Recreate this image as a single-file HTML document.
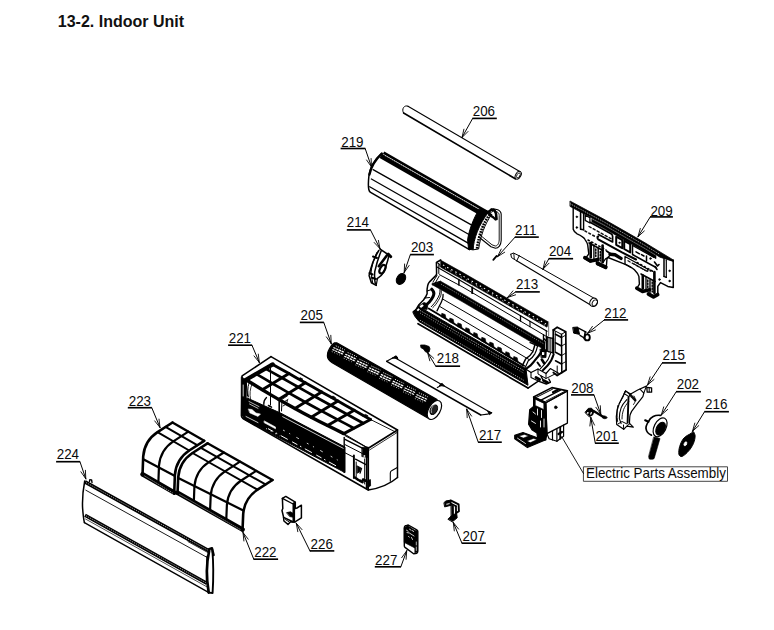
<!DOCTYPE html>
<html><head><meta charset="utf-8"><title>13-2. Indoor Unit</title>
<style>
html,body{margin:0;padding:0;background:#fff;}
body{width:774px;height:630px;overflow:hidden;position:relative;font-family:"Liberation Sans",sans-serif;}
h1{position:absolute;left:57.8px;top:13.2px;margin:0;font-size:16px;line-height:18px;font-weight:bold;color:#111;white-space:nowrap;}
svg{position:absolute;left:0;top:0;}
.lb{font-family:"Liberation Sans",sans-serif;font-size:13.4px;fill:#0a0a0a;}
.ep{font-family:"Liberation Sans",sans-serif;font-size:13.4px;fill:#0a0a0a;}
</style></head><body>
<h1>13-2. Indoor Unit</h1>
<svg width="774" height="630" viewBox="0 0 774 630" stroke-linecap="round" stroke-linejoin="round">
<text transform="translate(472.7 115.9) scale(1 1.07)" class="lb">206</text>
<line x1="472.4" y1="118.4" x2="496.8" y2="118.4" stroke="#000" stroke-width="1.65" stroke-linecap="butt"/>
<line x1="472.6" y1="118.5" x2="462.0" y2="137.5" stroke="#000" stroke-width="1.0"/>
<line x1="462.0" y1="137.5" x2="463.9" y2="129.2" stroke="#000" stroke-width="0.9"/>
<line x1="462.0" y1="137.5" x2="468.0" y2="131.5" stroke="#000" stroke-width="0.9"/>
<text transform="translate(341.2 146.6) scale(1 1.07)" class="lb">219</text>
<line x1="340.6" y1="148.5" x2="365.3" y2="148.5" stroke="#000" stroke-width="1.65" stroke-linecap="butt"/>
<line x1="365.2" y1="148.6" x2="371.5" y2="167.0" stroke="#000" stroke-width="1.0"/>
<line x1="371.5" y1="167.0" x2="366.6" y2="160.0" stroke="#000" stroke-width="0.9"/>
<line x1="371.5" y1="167.0" x2="371.1" y2="158.5" stroke="#000" stroke-width="0.9"/>
<text transform="translate(346.7 227.3) scale(1 1.07)" class="lb">214</text>
<line x1="346.8" y1="229.9" x2="370.6" y2="229.9" stroke="#000" stroke-width="1.65" stroke-linecap="butt"/>
<line x1="370.5" y1="230.0" x2="380.0" y2="248.7" stroke="#000" stroke-width="1.0"/>
<line x1="380.0" y1="248.7" x2="374.2" y2="242.5" stroke="#000" stroke-width="0.9"/>
<line x1="380.0" y1="248.7" x2="378.4" y2="240.4" stroke="#000" stroke-width="0.9"/>
<text transform="translate(410.9 251.9) scale(1 1.07)" class="lb">203</text>
<line x1="410.1" y1="254.6" x2="433.9" y2="254.6" stroke="#000" stroke-width="1.65" stroke-linecap="butt"/>
<line x1="410.3" y1="254.7" x2="404.2" y2="272.5" stroke="#000" stroke-width="1.0"/>
<line x1="404.2" y1="272.5" x2="404.6" y2="264.0" stroke="#000" stroke-width="0.9"/>
<line x1="404.2" y1="272.5" x2="409.1" y2="265.5" stroke="#000" stroke-width="0.9"/>
<text transform="translate(515.0 234.8) scale(1 1.07)" class="lb">211</text>
<line x1="514.8" y1="237.1" x2="538.8" y2="237.1" stroke="#000" stroke-width="1.65" stroke-linecap="butt"/>
<line x1="515.0" y1="237.2" x2="497.5" y2="256.7" stroke="#000" stroke-width="1.0"/>
<line x1="497.5" y1="256.7" x2="501.2" y2="249.1" stroke="#000" stroke-width="0.9"/>
<line x1="497.5" y1="256.7" x2="504.7" y2="252.2" stroke="#000" stroke-width="0.9"/>
<text transform="translate(548.9 256.1) scale(1 1.07)" class="lb">204</text>
<line x1="548.6" y1="258.7" x2="573.1" y2="258.7" stroke="#000" stroke-width="1.65" stroke-linecap="butt"/>
<line x1="548.8" y1="258.8" x2="543.0" y2="269.2" stroke="#000" stroke-width="1.0"/>
<line x1="543.0" y1="269.2" x2="544.9" y2="260.9" stroke="#000" stroke-width="0.9"/>
<line x1="543.0" y1="269.2" x2="549.0" y2="263.2" stroke="#000" stroke-width="0.9"/>
<text transform="translate(515.9 288.9) scale(1 1.07)" class="lb">213</text>
<line x1="515.3" y1="291.9" x2="539.8" y2="291.9" stroke="#000" stroke-width="1.65" stroke-linecap="butt"/>
<line x1="515.5" y1="292.0" x2="507.5" y2="297.5" stroke="#000" stroke-width="1.0"/>
<line x1="507.5" y1="297.5" x2="512.9" y2="290.9" stroke="#000" stroke-width="0.9"/>
<line x1="507.5" y1="297.5" x2="515.6" y2="294.8" stroke="#000" stroke-width="0.9"/>
<text transform="translate(650.4 216.0) scale(1 1.07)" class="lb">209</text>
<line x1="650.0" y1="216.9" x2="672.9" y2="216.9" stroke="#000" stroke-width="1.65" stroke-linecap="butt"/>
<line x1="650.2" y1="217.0" x2="638.0" y2="236.7" stroke="#000" stroke-width="1.0"/>
<line x1="638.0" y1="236.7" x2="640.3" y2="228.5" stroke="#000" stroke-width="0.9"/>
<line x1="638.0" y1="236.7" x2="644.3" y2="231.0" stroke="#000" stroke-width="0.9"/>
<text transform="translate(604.2 318.1) scale(1 1.07)" class="lb">212</text>
<line x1="604.0" y1="319.9" x2="628.1" y2="319.9" stroke="#000" stroke-width="1.65" stroke-linecap="butt"/>
<line x1="604.2" y1="320.0" x2="587.5" y2="333.3" stroke="#000" stroke-width="1.0"/>
<line x1="587.5" y1="333.3" x2="592.4" y2="326.4" stroke="#000" stroke-width="0.9"/>
<line x1="587.5" y1="333.3" x2="595.4" y2="330.0" stroke="#000" stroke-width="0.9"/>
<text transform="translate(662.5 360.3) scale(1 1.07)" class="lb">215</text>
<line x1="662.0" y1="362.9" x2="685.9" y2="362.9" stroke="#000" stroke-width="1.65" stroke-linecap="butt"/>
<line x1="662.2" y1="363.0" x2="647.5" y2="385.0" stroke="#000" stroke-width="1.0"/>
<line x1="647.5" y1="385.0" x2="650.1" y2="376.9" stroke="#000" stroke-width="0.9"/>
<line x1="647.5" y1="385.0" x2="654.0" y2="379.5" stroke="#000" stroke-width="0.9"/>
<text transform="translate(571.2 393.1) scale(1 1.07)" class="lb">208</text>
<line x1="571.0" y1="394.9" x2="594.1" y2="394.9" stroke="#000" stroke-width="1.65" stroke-linecap="butt"/>
<line x1="594.0" y1="395.0" x2="600.8" y2="414.2" stroke="#000" stroke-width="1.0"/>
<line x1="600.8" y1="414.2" x2="595.9" y2="407.3" stroke="#000" stroke-width="0.9"/>
<line x1="600.8" y1="414.2" x2="600.3" y2="405.7" stroke="#000" stroke-width="0.9"/>
<text transform="translate(676.7 389.4) scale(1 1.07)" class="lb">202</text>
<line x1="676.0" y1="391.7" x2="700.9" y2="391.7" stroke="#000" stroke-width="1.65" stroke-linecap="butt"/>
<line x1="676.2" y1="391.8" x2="661.3" y2="415.0" stroke="#000" stroke-width="1.0"/>
<line x1="661.3" y1="415.0" x2="663.7" y2="406.9" stroke="#000" stroke-width="0.9"/>
<line x1="661.3" y1="415.0" x2="667.7" y2="409.4" stroke="#000" stroke-width="0.9"/>
<text transform="translate(705.0 409.4) scale(1 1.07)" class="lb">216</text>
<line x1="704.3" y1="411.7" x2="728.9" y2="411.7" stroke="#000" stroke-width="1.65" stroke-linecap="butt"/>
<line x1="704.5" y1="411.8" x2="692.5" y2="431.3" stroke="#000" stroke-width="1.0"/>
<line x1="692.5" y1="431.3" x2="694.8" y2="423.1" stroke="#000" stroke-width="0.9"/>
<line x1="692.5" y1="431.3" x2="698.8" y2="425.6" stroke="#000" stroke-width="0.9"/>
<text transform="translate(595.5 441.2) scale(1 1.07)" class="lb">201</text>
<line x1="595.1" y1="443.2" x2="618.8" y2="443.2" stroke="#000" stroke-width="1.65" stroke-linecap="butt"/>
<line x1="595.3" y1="443.3" x2="590.8" y2="417.5" stroke="#000" stroke-width="1.0"/>
<line x1="590.8" y1="417.5" x2="594.5" y2="425.1" stroke="#000" stroke-width="0.9"/>
<line x1="590.8" y1="417.5" x2="589.9" y2="426.0" stroke="#000" stroke-width="0.9"/>
<text transform="translate(300.5 320.1) scale(1 1.07)" class="lb">205</text>
<line x1="299.8" y1="322.4" x2="323.9" y2="322.4" stroke="#000" stroke-width="1.65" stroke-linecap="butt"/>
<line x1="323.8" y1="322.5" x2="331.3" y2="343.8" stroke="#000" stroke-width="1.0"/>
<line x1="331.3" y1="343.8" x2="326.4" y2="336.9" stroke="#000" stroke-width="0.9"/>
<line x1="331.3" y1="343.8" x2="330.8" y2="335.3" stroke="#000" stroke-width="0.9"/>
<text transform="translate(436.7 363.1) scale(1 1.07)" class="lb">218</text>
<line x1="435.6" y1="366.2" x2="460.1" y2="366.2" stroke="#000" stroke-width="1.65" stroke-linecap="butt"/>
<line x1="435.8" y1="366.3" x2="427.6" y2="352.6" stroke="#000" stroke-width="1.0"/>
<line x1="427.6" y1="352.6" x2="433.8" y2="358.4" stroke="#000" stroke-width="0.9"/>
<line x1="427.6" y1="352.6" x2="429.8" y2="360.8" stroke="#000" stroke-width="0.9"/>
<text transform="translate(478.9 440.3) scale(1 1.07)" class="lb">217</text>
<line x1="478.1" y1="442.2" x2="501.8" y2="442.2" stroke="#000" stroke-width="1.65" stroke-linecap="butt"/>
<line x1="478.3" y1="442.3" x2="466.7" y2="409.2" stroke="#000" stroke-width="1.0"/>
<line x1="466.7" y1="409.2" x2="471.6" y2="416.1" stroke="#000" stroke-width="0.9"/>
<line x1="466.7" y1="409.2" x2="467.2" y2="417.7" stroke="#000" stroke-width="0.9"/>
<text transform="translate(228.7 343.1) scale(1 1.07)" class="lb">221</text>
<line x1="228.1" y1="345.2" x2="252.1" y2="345.2" stroke="#000" stroke-width="1.65" stroke-linecap="butt"/>
<line x1="252.0" y1="345.3" x2="259.3" y2="362.5" stroke="#000" stroke-width="1.0"/>
<line x1="259.3" y1="362.5" x2="254.0" y2="355.9" stroke="#000" stroke-width="0.9"/>
<line x1="259.3" y1="362.5" x2="258.3" y2="354.1" stroke="#000" stroke-width="0.9"/>
<text transform="translate(128.7 405.6) scale(1 1.07)" class="lb">223</text>
<line x1="127.8" y1="407.7" x2="151.9" y2="407.7" stroke="#000" stroke-width="1.65" stroke-linecap="butt"/>
<line x1="151.8" y1="407.8" x2="160.0" y2="427.5" stroke="#000" stroke-width="1.0"/>
<line x1="160.0" y1="427.5" x2="154.7" y2="420.9" stroke="#000" stroke-width="0.9"/>
<line x1="160.0" y1="427.5" x2="159.0" y2="419.1" stroke="#000" stroke-width="0.9"/>
<text transform="translate(56.7 459.4) scale(1 1.07)" class="lb">224</text>
<line x1="56.1" y1="461.7" x2="80.1" y2="461.7" stroke="#000" stroke-width="1.65" stroke-linecap="butt"/>
<line x1="80.0" y1="461.8" x2="85.8" y2="478.8" stroke="#000" stroke-width="1.0"/>
<line x1="85.8" y1="478.8" x2="80.9" y2="471.8" stroke="#000" stroke-width="0.9"/>
<line x1="85.8" y1="478.8" x2="85.4" y2="470.3" stroke="#000" stroke-width="0.9"/>
<text transform="translate(254.2 557.3) scale(1 1.07)" class="lb">222</text>
<line x1="253.6" y1="559.2" x2="278.1" y2="559.2" stroke="#000" stroke-width="1.65" stroke-linecap="butt"/>
<line x1="253.8" y1="559.3" x2="243.0" y2="532.5" stroke="#000" stroke-width="1.0"/>
<line x1="243.0" y1="532.5" x2="248.2" y2="539.2" stroke="#000" stroke-width="0.9"/>
<line x1="243.0" y1="532.5" x2="243.9" y2="541.0" stroke="#000" stroke-width="0.9"/>
<text transform="translate(310.5 548.9) scale(1 1.07)" class="lb">226</text>
<line x1="309.8" y1="550.9" x2="334.3" y2="550.9" stroke="#000" stroke-width="1.65" stroke-linecap="butt"/>
<line x1="310.0" y1="551.0" x2="296.3" y2="523.3" stroke="#000" stroke-width="1.0"/>
<line x1="296.3" y1="523.3" x2="302.0" y2="529.6" stroke="#000" stroke-width="0.9"/>
<line x1="296.3" y1="523.3" x2="297.8" y2="531.7" stroke="#000" stroke-width="0.9"/>
<text transform="translate(375.0 564.8) scale(1 1.07)" class="lb">227</text>
<line x1="374.8" y1="566.8" x2="400.9" y2="566.8" stroke="#000" stroke-width="1.65" stroke-linecap="butt"/>
<line x1="400.8" y1="566.9" x2="406.7" y2="550.8" stroke="#000" stroke-width="1.0"/>
<line x1="406.7" y1="550.8" x2="406.1" y2="559.3" stroke="#000" stroke-width="0.9"/>
<line x1="406.7" y1="550.8" x2="401.7" y2="557.7" stroke="#000" stroke-width="0.9"/>
<text transform="translate(462.5 540.9) scale(1 1.07)" class="lb">207</text>
<line x1="461.8" y1="543.2" x2="485.9" y2="543.2" stroke="#000" stroke-width="1.65" stroke-linecap="butt"/>
<line x1="462.0" y1="543.3" x2="453.3" y2="522.5" stroke="#000" stroke-width="1.0"/>
<line x1="453.3" y1="522.5" x2="458.6" y2="529.1" stroke="#000" stroke-width="0.9"/>
<line x1="453.3" y1="522.5" x2="454.3" y2="530.9" stroke="#000" stroke-width="0.9"/>
<rect x="583.8" y="466.8" width="143.7" height="14.5" fill="#fff" stroke="#444" stroke-width="1"/>
<text transform="translate(586 478.2) scale(1 1.09)" class="ep">Electric Parts Assembly</text>
<line x1="561.7" y1="436.7" x2="583.5" y2="473.5" stroke="#000" stroke-width="0.9"/>
<path d="M408.0,106.2 L520.2,171.8" fill="none" stroke="#000" stroke-width="1.1" />
<path d="M403.6,113.0 L515.7,179.0" fill="none" stroke="#000" stroke-width="1.6" />
<path d="M408,106.2 C404.5,104.5 401,109 403.6,113" fill="none" stroke="#000" stroke-width="1" />
<ellipse cx="518.2" cy="175.3" rx="2.6" ry="4.2" transform="rotate(30.0 518.2 175.3)" fill="#fff" stroke="#000" stroke-width="1"/>
<ellipse cx="518.4" cy="175.4" rx="1.5" ry="2.8" transform="rotate(30.0 518.4 175.4)" fill="none" stroke="#000" stroke-width="0.8"/>
<path d="M519.2,255.8 L595.5,299.0" fill="none" stroke="#000" stroke-width="1" />
<path d="M516.7,260.8 L591.0,305.2" fill="none" stroke="#000" stroke-width="1.2" />
<path d="M510.8,254.2 L513.5,253.0 L519.2,255.8" fill="none" stroke="#000" stroke-width="1" />
<path d="M510.8,254.2 L511.5,257.6 L516.7,260.8" fill="none" stroke="#000" stroke-width="1" />
<path d="M513.8,253.5 L514.3,259.0" fill="none" stroke="#000" stroke-width="0.9" />
<path d="M519.2,255.8 L516.7,260.8" fill="none" stroke="#000" stroke-width="1" />
<ellipse cx="593.6" cy="302.3" rx="3.6" ry="4.4" transform="rotate(30.0 593.6 302.3)" fill="#fff" stroke="#000" stroke-width="1.1"/>
<ellipse cx="594.8" cy="303.0" rx="2.4" ry="3.2" transform="rotate(30.0 594.8 303.0)" fill="none" stroke="#000" stroke-width="0.9"/>
<line x1="493.3" y1="259.8" x2="496.7" y2="255.9" stroke="#000" stroke-width="1.8"/>
<ellipse cx="401.0" cy="278.9" rx="4.2" ry="5.9" transform="rotate(32.0 401.0 278.9)" fill="#000" stroke="#000" stroke-width="1"/>
<path d="M381.5,153.5 C376,158.5 370,167 368.9,176 C368.3,181.5 368.3,187 368.8,189.5 C369.2,191.3 369.8,192 370.6,192.4 L469.5,249.6" fill="none" stroke="#000" stroke-width="1.5" />
<path d="M383.6,152.6 L488.5,212.6" fill="none" stroke="#000" stroke-width="2.8" stroke-linecap="butt"/>
<path d="M380.8,155.9 L480.0,212.6" fill="none" stroke="#000" stroke-width="4.7" stroke-linecap="butt"/>
<path d="M385.0,155.5 L478.0,208.7" stroke="#fff" stroke-width="0.6" stroke-dasharray="1.4 1.2" stroke-linecap="butt" fill="none"/>
<path d="M381.8,153.6 C376.5,158.5 371,166.5 369.4,174.5" fill="none" stroke="#000" stroke-width="2.4" />
<path d="M373.1,169.6 L474.0,226.4" fill="none" stroke="#000" stroke-width="1.3" />
<path d="M371.4,179.0 L470.3,235.3" fill="none" stroke="#000" stroke-width="1.3" />
<path d="M369.7,186.7 L468.6,243.4" fill="none" stroke="#000" stroke-width="1.3" />
<path d="M479,209.5 C473,219 468.5,232 467.6,240 L468.6,249.3 L473.2,249.8 C473.2,240 479,224 488.5,212.2 L486.5,210.8 Z" fill="#000" stroke="#000" stroke-width="1" />
<path d="M489.6,214.4 C483,223.5 478.8,235 477,248.6" stroke="#000" stroke-width="2.6" stroke-dasharray="1.7 1.0" stroke-linecap="butt" fill="none"/>
<path d="M491.2,215 C484.6,224.5 480.6,236 478.6,249 L473.2,249.8" fill="none" stroke="#000" stroke-width="1.0" />
<path d="M487,211.5 L491.5,215" fill="none" stroke="#000" stroke-width="1.8" />
<path d="M487,212 L493.3,208.7 L497.8,209.8 C500,210.8 501.2,212.5 501.2,214.5 L501.2,240.5 C501,245 498.5,248.3 495.5,248.3 L491,246.7 L478.5,236.8" fill="none" stroke="#000" stroke-width="1.1" />
<path d="M489,213.5 L493.6,211 L496.8,211.7 C498.5,212.5 499.2,213.8 499.2,215.5 L499.2,240 C499,243.5 497.5,246 495.3,246 L492,244.8 L480,235" fill="none" stroke="#000" stroke-width="0.9" />
<path d="M488,212.6 L491.5,209.4 L494.5,210.2 L496,213.5 L496.5,219" fill="none" stroke="#000" stroke-width="2.6" />
<path d="M489.5,215 L493.5,217.5 L495.5,219.5" fill="none" stroke="#000" stroke-width="2.2" />
<path d="M380.1,249.2 L390.6,256.2" fill="none" stroke="#000" stroke-width="1.6" />
<path d="M388.2,254 L390.8,256.8" fill="none" stroke="#000" stroke-width="2.8" />
<path d="M378.8,250.5 C376,255 372,264 370.5,269.7 C369.5,273 369,275 369.2,275.8 L371.4,282.8 L376.2,285.4" fill="none" stroke="#000" stroke-width="1.6" />
<path d="M381.4,250.5 C379,256 376,266 374.8,271.4 C374.3,276 374.6,280 375.3,283.7" fill="none" stroke="#000" stroke-width="1.5" />
<path d="M376.8,252.5 C374,258 371.5,267 371,273 L372.8,283.5" fill="none" stroke="#000" stroke-width="1.0" />
<path d="M388.8,256.2 C388,260 387,263 386.2,265.3 C385.5,268 384.5,270.5 383.6,272.3 C382,275 379.5,277.3 377.5,278.4" fill="none" stroke="#000" stroke-width="1.5" />
<path d="M387,255.3 L378.8,266.2" fill="none" stroke="#000" stroke-width="2.6" />
<ellipse cx="382.5" cy="269.2" rx="2.4" ry="4.6" transform="rotate(28.0 382.5 269.2)" fill="none" stroke="#000" stroke-width="2.2"/>
<path d="M377,258 L373,256.5 M372.5,274.5 L369.5,273 M376,279 L372,277.8" fill="none" stroke="#000" stroke-width="2.0" />
<path d="M376.2,285.4 L377.5,278.4" fill="none" stroke="#000" stroke-width="1.2" />
<path d="M440.5,260.1 L462.0,272.1 L548.6,322.1 L547.0,327.2 L462.0,279.1 L441.0,267.4 Z" fill="#000" stroke="#000" stroke-width="0.6" />
<path d="M443.0,264.9 L462.0,275.5 L546.0,324.0" stroke="#fff" stroke-width="1.1" stroke-dasharray="1.5 3.2" stroke-linecap="butt" fill="none"/>
<path d="M445.0,267.8 L462.0,277.3 L546.0,325.8" stroke="#fff" stroke-width="0.7" stroke-dasharray="1.2 4.8" stroke-linecap="butt" fill="none"/>
<path d="M440.7,260 L436.4,262.5 L436.6,274.1 C436,275.5 435.5,276 435,276.4 L429.8,281.6 C428.5,283 428,284 427.7,285.5 L427.1,289.2 L427.1,293.8 C426.5,296 425,298 423.5,300 L418.9,304.7 L415.8,309.8 L413.2,311.9" fill="none" stroke="#000" stroke-width="1.5" />
<path d="M438.8,264 L438.8,273.5 M439.1,276.2 L435,283.4 M437,275.5 L433,282" fill="none" stroke="#000" stroke-width="1.0" />
<path d="M436.4,262.5 L439.5,264 L440.2,266.8" fill="none" stroke="#000" stroke-width="1.0" />
<path d="M437.0,267.0 L462.0,281.4 L547.0,331.3" fill="none" stroke="#000" stroke-width="1.2" />
<path d="M439.5,274.7 L462.0,286.6 L546.0,336.2" fill="none" stroke="#000" stroke-width="1.0" />
<path d="M458.9,279.6 L458.9,285.0" fill="none" stroke="#000" stroke-width="1.5" />
<path d="M472.2,287.4 L472.2,293.2" fill="none" stroke="#000" stroke-width="1.8" />
<path d="M520.5,315.7 L520.5,321.1" fill="none" stroke="#000" stroke-width="1.3" />
<path d="M530.0,321.3 L530.0,326.8" fill="none" stroke="#000" stroke-width="1.1" />
<path d="M548.6,322.0 L548.6,336.0" fill="none" stroke="#888" stroke-width="1.2" />
<path d="M546.3,330.9 L546.3,343.0" fill="none" stroke="#000" stroke-width="1.1" />
<path d="M543.5,334.7 L543.5,348.0" fill="none" stroke="#000" stroke-width="1.4" />
<path d="M440.7,281.3 L462.0,293.4 L545.0,341.9 L545.0,350.1 L462.0,301.6 L432.6,284.9 Z" fill="#000" stroke="#000" stroke-width="0.6" />
<path d="M432.4,283.4 L440.7,281.3 L432.6,284.9 Z" fill="#000" stroke="#000" stroke-width="0.8" />
<path d="M441.0,284.1 L462.0,296.0 L544.0,344.0" stroke="#fff" stroke-width="0.6" stroke-dasharray="0.9 1.3" stroke-linecap="butt" fill="none"/>
<path d="M431.8,289.2 C433.5,291 434.3,292.5 433.8,294.3 C433.5,296.5 432.5,298 431.3,299.5 C430,301.5 429,302.6 427.6,303.6" fill="none" stroke="#000" stroke-width="3.0" />
<path d="M440,289.7 C440.5,293 439,296.5 436.9,299.5 C435.5,302 433.5,304.5 431.3,306.7" fill="none" stroke="#000" stroke-width="1.0" />
<path d="M441.3,290.5 C441.8,294 440.3,297.5 438.3,300.5 C437,303 435,305.6 432.8,307.6" fill="none" stroke="#000" stroke-width="0.9" />
<path d="M443.1,294.3 C443.3,298 441.5,302.5 439,306.7 L437,310.9" fill="none" stroke="#000" stroke-width="1.3" />
<path d="M427.1,291 L431.5,289.5 M425,298 L429.5,297.5" fill="none" stroke="#000" stroke-width="1.2" />
<path d="M443.1,299.3 L462.0,310.2 L533.0,351.5" fill="none" stroke="#000" stroke-width="1.0" />
<path d="M440.0,306.6 L462.0,319.7 L529.5,359.8" fill="none" stroke="#000" stroke-width="1.0" />
<path d="M428.7,308.5 L440.0,315.3 L462.0,328.5 L524.0,365.7" fill="none" stroke="#000" stroke-width="1.9" />
<path d="M441.2,316.5 l0.6,-3.2 l3.4,1.2 l0.9,4.2 Z" fill="#000" stroke="#000" stroke-width="0.6" />
<path d="M449.2,321.3 l0.6,-3.2 l3.4,1.2 l0.9,4.2 Z" fill="#000" stroke="#000" stroke-width="0.6" />
<path d="M457.2,326.1 l0.6,-3.2 l3.4,1.2 l0.9,4.2 Z" fill="#000" stroke="#000" stroke-width="0.6" />
<path d="M465.2,330.9 l0.6,-3.2 l3.4,1.2 l0.9,4.2 Z" fill="#000" stroke="#000" stroke-width="0.6" />
<path d="M473.2,335.7 l0.6,-3.2 l3.4,1.2 l0.9,4.2 Z" fill="#000" stroke="#000" stroke-width="0.6" />
<path d="M481.2,340.5 l0.6,-3.2 l3.4,1.2 l0.9,4.2 Z" fill="#000" stroke="#000" stroke-width="0.6" />
<path d="M489.2,345.3 l0.6,-3.2 l3.4,1.2 l0.9,4.2 Z" fill="#000" stroke="#000" stroke-width="0.6" />
<path d="M497.2,350.1 l0.6,-3.2 l3.4,1.2 l0.9,4.2 Z" fill="#000" stroke="#000" stroke-width="0.6" />
<path d="M505.2,354.9 l0.6,-3.2 l3.4,1.2 l0.9,4.2 Z" fill="#000" stroke="#000" stroke-width="0.6" />
<path d="M513.2,359.7 l0.6,-3.2 l3.4,1.2 l0.9,4.2 Z" fill="#000" stroke="#000" stroke-width="0.6" />
<path d="M413.2,312.2 L416.0,309.8 L425.0,310.2 L440.0,318.9 L462.0,331.7 L526.0,368.8 L528.0,385.3 L462.0,346.7 L440.0,333.8 L419.0,321.5 L415.0,316.5 Z" fill="#000" stroke="#000" stroke-width="1" />
<path d="M414,311 L419,306 L424,302.5 L428,304 L427,309.5 Z" fill="#000" stroke="#000" stroke-width="0.8" />
<path d="M419.5,306.3 l2.8,-2 l1.5,1.4 l-2.8,2.2 Z M416.6,310 l2,-1.8 l1.2,1.2 l-1.8,1.8 Z" fill="#fff" stroke="none"/>
<path d="M420.0,310.4 L440.0,322.0 L462.0,334.8 L524.0,370.7" stroke="#fff" stroke-width="0.7" stroke-dasharray="1.0 1.1" stroke-linecap="butt" fill="none"/>
<path d="M420.0,313.0 L440.0,324.6 L462.0,337.4 L524.0,373.3" stroke="#fff" stroke-width="0.6" stroke-dasharray="0.9 1.6" stroke-linecap="butt" fill="none"/>
<path d="M420.0,320.2 L440.0,331.8 L462.0,344.6 L524.0,380.5" stroke="#fff" stroke-width="0.7" stroke-dasharray="1.0 1.2" stroke-linecap="butt" fill="none"/>
<path d="M418.0,323.7 L440.0,336.6 L462.0,349.5 L528.0,388.1" fill="none" stroke="#000" stroke-width="1.7" />
<path d="M534.9,344.6 C534.2,347.5 533.6,350 532.6,352 C531,355 528,357.5 525.7,358.9 L522.3,365.7" fill="none" stroke="#000" stroke-width="1.5" />
<path d="M537.6,345.8 C536.8,349 536,351.6 535,353.6 C533.4,356.6 530.6,359.2 528.3,360.8 L525.2,367.4" fill="none" stroke="#000" stroke-width="1.2" />
<path d="M530,342.6 C533,343.8 535.5,344.6 537.8,346" fill="none" stroke="#000" stroke-width="1.3" />
<path d="M542.9,346.9 C541.8,351 539.8,355 537.1,357.7 C535,360.5 532.5,363.5 530.3,365.7 L525.7,369.1" fill="none" stroke="#000" stroke-width="2.2" />
<path d="M553.7,354.3 C552.5,358.5 550.5,362.5 547.4,365.7 L542.9,370.3" fill="none" stroke="#000" stroke-width="2.0" />
<path d="M550.6,353.4 C549.4,357.5 547.4,361.2 544.6,364.2 L540.4,368.6" fill="none" stroke="#000" stroke-width="1.1" />
<path d="M540.3,349.2 L546.3,349.8 L546.0,357.5 L541.5,357.8 Z" fill="#000" stroke="#000" stroke-width="0.8" />
<path d="M542,352 l2.4,0.3 l-0.2,2.6 l-2.2,0 Z" fill="#fff" stroke="none"/>
<path d="M541.8,359.5 L544.2,363.2" fill="none" stroke="#000" stroke-width="2.6" />
<path d="M537.5,362.5 L540,366" fill="none" stroke="#000" stroke-width="2.0" />
<path d="M546.9,337.1 L553.7,338.6 L553.7,353.1 L546.9,351.0" fill="none" stroke="#000" stroke-width="1.1" />
<path d="M546.9,337.1 L546.9,351.0" fill="none" stroke="#000" stroke-width="2.0" />
<line x1="549.0" y1="338.0" x2="549.0" y2="352.4" stroke="#000" stroke-width="0.9"/>
<line x1="550.8" y1="338.0" x2="550.8" y2="352.4" stroke="#000" stroke-width="0.9"/>
<line x1="552.4" y1="338.0" x2="552.4" y2="352.4" stroke="#000" stroke-width="0.9"/>
<path d="M544,338.9 L546.9,341.5" fill="none" stroke="#000" stroke-width="1.6" />
<path d="M528.0,388.1 L538.3,381.1 L546.3,384.0 L550.3,382.3" fill="none" stroke="#000" stroke-width="1.4" />
<path d="M525.7,369.1 L531.0,372.5 L538.0,369.0 L546.0,373.5 L550.3,368.6 L559.4,373.7 L566.3,369.6" fill="none" stroke="#000" stroke-width="1.2" />
<path d="M531.0,372.5 L531.0,377.5 L538.3,381.1" fill="none" stroke="#000" stroke-width="1.1" />
<path d="M538.0,369.0 L538.0,374.0 L546.0,378.5 L546.0,373.5" fill="none" stroke="#000" stroke-width="1.0" />
<path d="M546.0,378.5 L556.0,373.5" fill="none" stroke="#000" stroke-width="1.0" />
<path d="M536,377.5 l3.6,2 M543.5,380.6 l4,2" fill="none" stroke="#000" stroke-width="2.8" />
<path d="M541,376.2 l2,3.6 M548.8,379 l1.6,3" fill="none" stroke="#000" stroke-width="1.4" />
<path d="M553.3,330.0 L557.2,327.2 L565.8,331.7 L566.1,370.0 L557.2,375.6 L553.3,372.5" fill="none" stroke="#000" stroke-width="1.7" />
<path d="M553.3,330.0 L553.3,353.0" fill="none" stroke="#000" stroke-width="1.8" />
<path d="M553.3,330.0 L561.5,334.3 L565.8,331.7" fill="none" stroke="#000" stroke-width="1" />
<path d="M561.5,334.3 L561.8,372.8" fill="none" stroke="#000" stroke-width="1.5" />
<path d="M555.3,331.5 L555.3,352.0" fill="none" stroke="#000" stroke-width="0.9" />
<path d="M555.5,334.3 L561.5,337.5" fill="none" stroke="#000" stroke-width="1.6" />
<path d="M561.5,337.5 L565.8,335.1" fill="none" stroke="#000" stroke-width="0.9" />
<path d="M555.5,342.8 L561.5,346.0" fill="none" stroke="#000" stroke-width="1.6" />
<path d="M561.5,346.0 L565.8,343.6" fill="none" stroke="#000" stroke-width="0.9" />
<path d="M555.5,352.3 L561.5,355.5" fill="none" stroke="#000" stroke-width="1.6" />
<path d="M561.5,355.5 L565.8,353.1" fill="none" stroke="#000" stroke-width="0.9" />
<path d="M555.5,360.8 L561.5,364.0" fill="none" stroke="#000" stroke-width="1.6" />
<path d="M561.5,364.0 L565.8,361.6" fill="none" stroke="#000" stroke-width="0.9" />
<path d="M557.2,375.6 L557.2,366.0" fill="none" stroke="#000" stroke-width="1" />
<path d="M573.2,204.4 L573.2,229.3 C574,232 575.5,233 577.1,233.8 C581,235.5 584,237.5 584.9,239.3 C586.5,241.5 587.5,243.5 587.7,244.9 L588.8,253.8 L585.5,258.5" fill="none" stroke="#000" stroke-width="1.4" />
<path d="M673.2,259.9 L673.3,287.6 L667.8,286.4 L660.5,282.6 L657.8,286.4 L657.8,294.5" fill="none" stroke="#000" stroke-width="1.5" />
<path d="M570.3,201.2 L590.0,211.8 L604.0,219.3 L625.0,231.3 L645.0,242.8 L660.0,251.9 L673.2,259.9 L673.2,261.4 L660.0,257.2 L645.0,248.1 L625.0,236.6 L604.0,224.6 L590.0,217.1 L570.3,206.5 Z" fill="#000" stroke="#000" stroke-width="0.8" />
<path d="M570.3,203.8 L590.0,214.4 L604.0,221.9 L625.0,233.9 L645.0,245.4 L660.0,254.5" stroke="#fff" stroke-width="0.7" stroke-dasharray="1.1 1.0" stroke-linecap="butt" fill="none"/>
<path d="M592.0,219.2 L604.0,225.6 L625.0,237.6 L645.0,249.1 L656.0,255.8 L656.0,258.7 L645.0,252.0 L625.0,240.5 L604.0,228.5 L592.0,222.1 Z" fill="#000" stroke="#000" stroke-width="0.6" />
<path d="M580.6,210.6 L580.6,229.3" fill="none" stroke="#000" stroke-width="1.6" />
<path d="M583.6,212.2 L583.6,229.8" fill="none" stroke="#000" stroke-width="1.4" />
<path d="M580.6,229.3 L583.6,229.8" fill="none" stroke="#000" stroke-width="1.4" />
<path d="M585.2,215.2 L589.9,217.8 L589.9,223.0 L585.2,220.4 Z" fill="none" stroke="#000" stroke-width="1.3" />
<ellipse cx="576.8" cy="216.8" rx="0.9" ry="0.9" transform="rotate(0.0 576.8 216.8)" fill="#000" stroke="#000" stroke-width="0.5"/>
<ellipse cx="576.8" cy="227.5" rx="0.9" ry="0.9" transform="rotate(0.0 576.8 227.5)" fill="#000" stroke="#000" stroke-width="0.5"/>
<path d="M590.5,222.5 L611,233.8 C612.3,234.6 612.6,235.2 612.6,236.2 L612.6,242 L598.5,234.5" fill="none" stroke="#000" stroke-width="1.7" />
<path d="M598.2,236.5 C597.2,236 597.2,238.6 598.2,239.3 L622,252.4 L636,259.5" fill="none" stroke="#000" stroke-width="2.0" />
<path d="M589,226.5 L611,238.6" stroke="#111" stroke-width="1.4" stroke-dasharray="2.4 2.2" fill="none"/>
<path d="M585,231 L596,237" stroke="#111" stroke-width="1.6" stroke-dasharray="1.8 2.6" fill="none"/>
<path d="M616.2,236.7 L622.3,240.2 L622.3,248.2 L616.2,244.8 Z" fill="none" stroke="#000" stroke-width="2.0" />
<path d="M624.2,240.8 L630.2,244.2 L630.2,252.4 L624.2,249.0 Z" fill="none" stroke="#000" stroke-width="2.0" />
<ellipse cx="619.5" cy="242.8" rx="0.8" ry="0.8" transform="rotate(0.0 619.5 242.8)" fill="#000" stroke="#000" stroke-width="0.5"/>
<path d="M632.5,245.5 L632.5,254.5 L656.0,267.5" fill="none" stroke="#000" stroke-width="1.5" />
<path d="M632.5,245.5 L654.0,257.4" fill="none" stroke="#000" stroke-width="1.3" />
<path d="M636,251.8 l3.5,2 M641.5,254.6 l2.4,1.4 M646.5,256 l0,5" fill="none" stroke="#000" stroke-width="1.5" />
<path d="M625,256.5 L625,264 L631,267.5 M625,256.5 L647,268.7 C648.3,269.6 648.3,271.6 647,271.2 L634,264" fill="none" stroke="#000" stroke-width="1.3" />
<path d="M628,260.8 L646,270.8" stroke="#111" stroke-width="1.3" stroke-dasharray="2.4 2.4" fill="none"/>
<path d="M664.0,258.8 L664.0,276.4" fill="none" stroke="#000" stroke-width="1.5" />
<path d="M666.3,260.2 L666.3,277.4" fill="none" stroke="#000" stroke-width="1.2" />
<path d="M664.0,276.4 L666.3,277.4" fill="none" stroke="#000" stroke-width="1.3" />
<ellipse cx="669.6" cy="270.8" rx="0.9" ry="0.9" transform="rotate(0.0 669.6 270.8)" fill="#000" stroke="#000" stroke-width="0.5"/>
<ellipse cx="669.6" cy="281.0" rx="0.9" ry="0.9" transform="rotate(0.0 669.6 281.0)" fill="#000" stroke="#000" stroke-width="0.5"/>
<ellipse cx="650.5" cy="258.5" rx="0.9" ry="0.9" transform="rotate(0.0 650.5 258.5)" fill="#000" stroke="#000" stroke-width="0.5"/>
<ellipse cx="650.5" cy="270.6" rx="0.9" ry="0.9" transform="rotate(0.0 650.5 270.6)" fill="#000" stroke="#000" stroke-width="0.5"/>
<ellipse cx="659.5" cy="279.5" rx="0.9" ry="0.9" transform="rotate(0.0 659.5 279.5)" fill="#000" stroke="#000" stroke-width="0.5"/>
<path d="M654.5,262 l3,4 l1.5,-1.5 M655,266.5 l2,3" fill="none" stroke="#000" stroke-width="1.6" />
<path d="M608,257.5 L622.2,263.1 C628,265.5 632.5,268 634.4,269.8 C637,272.5 638.5,275 638.9,276.4 L639.4,284.2 L636.7,288.7" fill="none" stroke="#000" stroke-width="1.4" />
<path d="M608,257.5 L605.5,258.8 L603,262.5" fill="none" stroke="#000" stroke-width="1.3" />
<path d="M584.5,258.4 L590,262 L596,259.8 L597,264.5 L606.2,268.5 L607,258.4 L610,255.3" fill="none" stroke="#000" stroke-width="1.4" />
<path d="M590.7,243.0 L590.7,257.5" fill="none" stroke="#000" stroke-width="2.6" />
<path d="M593.9,244.8 L593.9,258.8" fill="none" stroke="#000" stroke-width="1.3" />
<path d="M602.6,245.5 L602.6,262.3" fill="none" stroke="#000" stroke-width="2.6" />
<path d="M598.2,248.0 L598.2,261.0" fill="none" stroke="#000" stroke-width="1.4" />
<path d="M584.8,257.6 L590.5,261 L598,259.4" fill="none" stroke="#000" stroke-width="3.6" />
<path d="M597.5,263.2 L605.8,267.2" fill="none" stroke="#000" stroke-width="3.8" />
<path d="M589,243 L603,250.5" fill="none" stroke="#000" stroke-width="1.6" />
<path d="M595.8,249 L595.8,258 M600.3,251.5 L600.3,261" stroke="#000" stroke-width="1.5" stroke-dasharray="1.4 1.6" fill="none"/>
<path d="M610,254.2 L615,254.8 L621,258.4" fill="none" stroke="#000" stroke-width="3.4" />
<path d="M606.5,251 L611,254" fill="none" stroke="#000" stroke-width="1.6" />
<path d="M588,240 L606,250" stroke="#000" stroke-width="1.5" stroke-dasharray="1.5 2.6" fill="none"/>
<path d="M642.8,275.5 L642.8,288.5" fill="none" stroke="#000" stroke-width="2.6" />
<path d="M646.0,277.5 L646.0,290.0" fill="none" stroke="#000" stroke-width="1.3" />
<path d="M654.4,272.0 L654.4,293.0" fill="none" stroke="#000" stroke-width="2.6" />
<path d="M650.0,280.0 L650.0,292.5" fill="none" stroke="#000" stroke-width="1.4" />
<path d="M636.8,288.2 L642.5,291.4 L649.5,289.8" fill="none" stroke="#000" stroke-width="3.6" />
<path d="M648.5,294 L653.5,296.8 L657.6,294.6" fill="none" stroke="#000" stroke-width="3.8" />
<path d="M641,274 L655,281.5" fill="none" stroke="#000" stroke-width="1.6" />
<path d="M647.8,280 L647.8,289 M652.2,282 L652.2,292" stroke="#000" stroke-width="1.5" stroke-dasharray="1.4 1.6" fill="none"/>
<path d="M637,262.5 L654,272" stroke="#000" stroke-width="1.5" stroke-dasharray="1.5 2.6" fill="none"/>
<path d="M573.1,327.4 L577.8,327.0 L579.6,334.4 L574.0,333.2 Z" fill="#000" stroke="#000" stroke-width="1" />
<path d="M578.5,328.2 L586.1,332.2" fill="none" stroke="#000" stroke-width="1.3" />
<path d="M580.0,335.4 L584.6,338.2" fill="none" stroke="#000" stroke-width="1.3" />
<ellipse cx="587.2" cy="337.4" rx="2.6" ry="3.0" transform="rotate(0.0 587.2 337.4)" fill="none" stroke="#000" stroke-width="1.9"/>
<line x1="585.2" y1="332.0" x2="584.2" y2="338.5" stroke="#000" stroke-width="1.6"/>
<path d="M646.4,386.1 L637.7,390 L629.8,394.4 L625.5,390.9 L619.3,403.6 C617.5,408 616.5,413 616.3,416.6 L616.7,424.5 L623.7,429.3 L626.8,426.2 L633.3,427.1 L629.8,423.6" fill="none" stroke="#000" stroke-width="1.2" />
<path d="M646.8,387.4 L651.6,387.8 L651.6,392.2 L647.2,392.2 Z" fill="none" stroke="#000" stroke-width="1.3" />
<line x1="649.2" y1="387.8" x2="649.2" y2="392.0" stroke="#000" stroke-width="1.0"/>
<path d="M643.8,393.1 L642.9,396.6 L636.8,404.4 L631.6,411.4 C630.5,413.5 629.9,415 629.8,416.6 L629.4,423.6" fill="none" stroke="#000" stroke-width="1.2" />
<path d="M646.4,386.1 L643.8,393.1 L640,389.2" fill="none" stroke="#000" stroke-width="1.1" />
<path d="M626.8,399.6 C624,402.5 622,405.5 621.1,407.9 C619.8,411.5 619.3,415 619.3,418.4 L621.1,423.6" fill="none" stroke="#000" stroke-width="1.1" />
<path d="M628.8,401.5 C626.5,404 624.5,407 623.6,409.5 C622.4,413 622,416 622,419" fill="none" stroke="#000" stroke-width="0.9" />
<path d="M628.5,397.3 L627.6,422.8" fill="none" stroke="#000" stroke-width="1.9" />
<path d="M625.5,390.9 L623,397 L619.3,403.6" fill="none" stroke="#000" stroke-width="1" />
<path d="M630.2,394.8 L635.2,400.2" stroke="#111" stroke-width="2.6" stroke-dasharray="0.9 0.9" fill="none"/>
<path d="M618,424 L622,421.5 L627,424" fill="none" stroke="#000" stroke-width="1" />
<path d="M625.5,390.9 L630.7,394.0 L628.9,396.6 L624.1,393.5 Z" fill="none" stroke="#000" stroke-width="1.1" />
<path d="M617.8,405.5 C616.8,410 616.9,416 617.6,421.5" fill="none" stroke="#000" stroke-width="0.9" />
<path d="M629.8,423.6 L626.8,426.2 M623.7,429.3 L623.5,425" fill="none" stroke="#000" stroke-width="1.0" />
<path d="M634,396 C636,399 635.5,402 633.5,404.5" fill="none" stroke="#000" stroke-width="0.9" />
<path d="M654,437 L660,438.5 L654.2,458.4 C653,459.6 650.2,459.6 649,458.8 L648.7,456.4 Z" fill="#000" stroke="#000" stroke-width="0.6" />
<path d="M660.5,415.4 C655,414.5 650.5,417.5 648.7,421.1 C646.5,424.5 645.6,427 646.1,429 C646.5,432 648.5,434 651.4,435.1" fill="none" stroke="#000" stroke-width="1.7" />
<ellipse cx="660.1" cy="427.3" rx="5.9" ry="10.2" transform="rotate(27.0 660.1 427.3)" fill="#fff" stroke="#000" stroke-width="1.2"/>
<ellipse cx="660.6" cy="428.6" rx="4.2" ry="6.9" transform="rotate(27.0 660.6 428.6)" fill="#000" stroke="#000" stroke-width="1"/>
<path d="M645.2,420.3 L648.4,421.7" fill="none" stroke="#000" stroke-width="2.2" />
<path d="M693.7,432 C695,434 695.4,436 695,437.7 C694.6,440.5 693.8,443 692.4,445.6 C691,448.3 689.3,450.5 687.2,452.5 C685.5,454.3 683.7,455.7 681.9,456.5 C680.5,456.8 679.2,455.8 678.9,454.3 C678.6,451.7 678.9,449 679.7,446.4 C680.4,443.9 681.4,441.6 682.8,439.4 C684.5,437.3 686.5,435.7 688.9,434.6 Z" fill="#000" stroke="#000" stroke-width="1" />
<ellipse cx="685.4" cy="443.8" rx="1.3" ry="2.2" transform="rotate(28.0 685.4 443.8)" fill="#fff" stroke="#fff" stroke-width="0.5"/>
<path d="M585.2,412.2 L588.3,408.4 L591.5,408.2 L594,411 L592.6,415 L589.6,416.6 Z" fill="#000" stroke="#000" stroke-width="1.0" />
<path d="M587.2,412 l1.6,0.2 l-0.6,1.8 l-1.4,-0.4 Z M590.6,412.4 l1.6,-0.6 l-0.8,2.4 l-1.4,0.6 Z" fill="#fff" stroke="none"/>
<path d="M593.6,411 L602.6,416.6" fill="none" stroke="#000" stroke-width="2.3" />
<ellipse cx="604.6" cy="417.3" rx="2.4" ry="1.4" transform="rotate(10.0 604.6 417.3)" fill="#000" stroke="#000" stroke-width="0.6"/>
<path d="M545.8,402.6 L567.4,390.9 L567.4,423.1 L546.9,433.7 Z" fill="#fff" stroke="#000" stroke-width="1.3" />
<ellipse cx="555.8" cy="407.3" rx="1.4" ry="1.5" transform="rotate(0.0 555.8 407.3)" fill="#000" stroke="#000" stroke-width="0.5"/>
<path d="M533.6,397.0 L551.9,387.6 L567.4,390.9 L545.8,402.6 Z" fill="#fff" stroke="#000" stroke-width="1.6" />
<path d="M536.5,397.3 L552.5,389.2" fill="none" stroke="#000" stroke-width="1.0" />
<path d="M541.0,400.2 L560.5,390.2" fill="none" stroke="#000" stroke-width="1.3" />
<path d="M546.0,401.0 L564.5,391.5" fill="none" stroke="#000" stroke-width="0.9" />
<path d="M553,392.2 l5,-2.4" fill="none" stroke="#000" stroke-width="2.2" />
<path d="M533.6,397.0 L545.8,402.6 L546.9,433.7 L545.8,439.8 L538.0,439.8 L536.9,433.1 L531.9,429.8 L528.6,424.2 L529.7,409.8 L533.6,406.4 Z" fill="#000" stroke="#000" stroke-width="1.2" />
<path d="M535.3,399.5 L535.3,405.5 L543.8,409.5 L543.8,403.6 Z" fill="#fff" stroke="#000" stroke-width="0.6" />
<path d="M537.5,409 l0,6 M541.5,410.5 l0,7 M544,419 l0,8 M533,412 l2.5,2 M531.5,421 l4,2.4 M540.5,421 l0,6" fill="none" stroke="#fff" stroke-width="0.9" />
<path d="M514.7,435.3 L523.0,432.6 L538.0,438.1 L545.8,439.8 L527.4,447.6 L514.7,438.7 Z" fill="#000" stroke="#000" stroke-width="1.1" />
<path d="M519,436 l5.5,-1.6 l4,1.6 l-5,2 Z M527,441 l6.5,-2.6 l3.5,1.2 l-6.5,3 Z" fill="#fff" stroke="#000" stroke-width="0.5" />
<path d="M517.5,438.2 l8,5.3" fill="none" stroke="#fff" stroke-width="0.8" />
<path d="M546.9,433.7 L549.1,438.7 L556.9,441.3 L563.6,436.3 L563.6,425.2" fill="none" stroke="#000" stroke-width="1.2" />
<path d="M552.5,431.2 L552.5,440.0" fill="none" stroke="#000" stroke-width="1.2" />
<path d="M556.9,429.0 L556.9,441.3" fill="none" stroke="#000" stroke-width="1.2" />
<path d="M560.2,427.3 L560.2,438.8" fill="none" stroke="#000" stroke-width="1.8" />
<path d="M558.5,434 l3.5,-2" fill="none" stroke="#000" stroke-width="2.2" />
<path d="M336.7,342.8 L437.1,399.6 L428.6,418.6 L332.2,362.8 C329.5,361 327.4,358.5 327.4,356 C327.4,353.5 327.6,352.5 328.2,351.3 C330,347.5 332.5,344 334.5,342.9 Z" fill="#000" stroke="#000" stroke-width="1.2" />
<ellipse cx="434.4" cy="410.0" rx="5.8" ry="10.4" transform="rotate(30.0 434.4 410.0)" fill="#fff" stroke="#000" stroke-width="1.2"/>
<ellipse cx="433.8" cy="409.7" rx="3.3" ry="5.2" transform="rotate(30.0 433.8 409.7)" fill="#222" stroke="#000" stroke-width="1.0"/>
<path d="M431.5,412.5 C430.8,410 431.5,407 433.5,405.6" fill="none" stroke="#ddd" stroke-width="0.7" />
<path d="M335.8,345.8 L344.8,349.9" stroke="#fff" stroke-width="1.0" stroke-dasharray="1.0 1.3" stroke-linecap="butt" fill="none"/>
<path d="M333.4,347.5 L344.4,352.4" stroke="#fff" stroke-width="1.25" stroke-dasharray="2.4 0.6" stroke-linecap="butt" fill="none"/>
<path d="M332.4,349.5 L343.4,354.4" stroke="#fff" stroke-width="1.25" stroke-dasharray="2.4 0.6" stroke-linecap="butt" fill="none"/>
<path d="M331.8,351.5 L339.8,355.1" stroke="#ddd" stroke-width="0.9" stroke-dasharray="0.9 1.8" stroke-linecap="butt" fill="none"/>
<path d="M347.7,352.5 L356.7,356.6" stroke="#fff" stroke-width="1.0" stroke-dasharray="1.0 1.3" stroke-linecap="butt" fill="none"/>
<path d="M345.3,354.2 L356.3,359.2" stroke="#fff" stroke-width="1.25" stroke-dasharray="2.4 0.6" stroke-linecap="butt" fill="none"/>
<path d="M344.3,356.2 L355.3,361.2" stroke="#fff" stroke-width="1.25" stroke-dasharray="2.4 0.6" stroke-linecap="butt" fill="none"/>
<path d="M343.7,358.2 L351.7,361.8" stroke="#ddd" stroke-width="0.9" stroke-dasharray="0.9 1.8" stroke-linecap="butt" fill="none"/>
<path d="M359.5,359.2 L368.5,363.3" stroke="#fff" stroke-width="1.0" stroke-dasharray="1.0 1.3" stroke-linecap="butt" fill="none"/>
<path d="M357.1,360.9 L368.1,365.9" stroke="#fff" stroke-width="1.25" stroke-dasharray="2.4 0.6" stroke-linecap="butt" fill="none"/>
<path d="M356.1,362.9 L367.1,367.9" stroke="#fff" stroke-width="1.25" stroke-dasharray="2.4 0.6" stroke-linecap="butt" fill="none"/>
<path d="M355.5,364.9 L363.5,368.5" stroke="#ddd" stroke-width="0.9" stroke-dasharray="0.9 1.8" stroke-linecap="butt" fill="none"/>
<path d="M371.4,366.0 L380.4,370.0" stroke="#fff" stroke-width="1.0" stroke-dasharray="1.0 1.3" stroke-linecap="butt" fill="none"/>
<path d="M369.0,367.7 L380.0,372.6" stroke="#fff" stroke-width="1.25" stroke-dasharray="2.4 0.6" stroke-linecap="butt" fill="none"/>
<path d="M368.0,369.7 L379.0,374.6" stroke="#fff" stroke-width="1.25" stroke-dasharray="2.4 0.6" stroke-linecap="butt" fill="none"/>
<path d="M367.4,371.7 L375.4,375.3" stroke="#ddd" stroke-width="0.9" stroke-dasharray="0.9 1.8" stroke-linecap="butt" fill="none"/>
<path d="M383.3,372.7 L392.3,376.7" stroke="#fff" stroke-width="1.0" stroke-dasharray="1.0 1.3" stroke-linecap="butt" fill="none"/>
<path d="M380.9,374.4 L391.9,379.3" stroke="#fff" stroke-width="1.25" stroke-dasharray="2.4 0.6" stroke-linecap="butt" fill="none"/>
<path d="M379.9,376.4 L390.9,381.3" stroke="#fff" stroke-width="1.25" stroke-dasharray="2.4 0.6" stroke-linecap="butt" fill="none"/>
<path d="M379.3,378.4 L387.3,382.0" stroke="#ddd" stroke-width="0.9" stroke-dasharray="0.9 1.8" stroke-linecap="butt" fill="none"/>
<path d="M395.1,379.4 L404.1,383.5" stroke="#fff" stroke-width="1.0" stroke-dasharray="1.0 1.3" stroke-linecap="butt" fill="none"/>
<path d="M392.8,381.1 L403.8,386.1" stroke="#fff" stroke-width="1.25" stroke-dasharray="2.4 0.6" stroke-linecap="butt" fill="none"/>
<path d="M391.8,383.1 L402.8,388.1" stroke="#fff" stroke-width="1.25" stroke-dasharray="2.4 0.6" stroke-linecap="butt" fill="none"/>
<path d="M391.1,385.1 L399.1,388.7" stroke="#ddd" stroke-width="0.9" stroke-dasharray="0.9 1.8" stroke-linecap="butt" fill="none"/>
<path d="M407.0,386.1 L416.0,390.2" stroke="#fff" stroke-width="1.0" stroke-dasharray="1.0 1.3" stroke-linecap="butt" fill="none"/>
<path d="M404.6,387.8 L415.6,392.8" stroke="#fff" stroke-width="1.25" stroke-dasharray="2.4 0.6" stroke-linecap="butt" fill="none"/>
<path d="M403.6,389.8 L414.6,394.8" stroke="#fff" stroke-width="1.25" stroke-dasharray="2.4 0.6" stroke-linecap="butt" fill="none"/>
<path d="M403.0,391.8 L411.0,395.4" stroke="#ddd" stroke-width="0.9" stroke-dasharray="0.9 1.8" stroke-linecap="butt" fill="none"/>
<path d="M418.9,392.8 L427.9,396.9" stroke="#fff" stroke-width="1.0" stroke-dasharray="1.0 1.3" stroke-linecap="butt" fill="none"/>
<path d="M416.5,394.5 L427.5,399.5" stroke="#fff" stroke-width="1.25" stroke-dasharray="2.4 0.6" stroke-linecap="butt" fill="none"/>
<path d="M415.5,396.5 L426.5,401.5" stroke="#fff" stroke-width="1.25" stroke-dasharray="2.4 0.6" stroke-linecap="butt" fill="none"/>
<path d="M414.9,398.5 L422.9,402.1" stroke="#ddd" stroke-width="0.9" stroke-dasharray="0.9 1.8" stroke-linecap="butt" fill="none"/>
<path d="M395.8,358.2 L490.5,412.6" fill="none" stroke="#000" stroke-width="1.1" />
<path d="M386.7,361.3 L480.8,415.0" fill="none" stroke="#000" stroke-width="1.5" />
<path d="M386.7,361.3 L393.5,357.6 L396.5,356.4 L397.5,358.8" fill="none" stroke="#000" stroke-width="1.1" />
<path d="M392.5,358 l3.6,-2.2 l1.6,2.2 Z" fill="#000" stroke="#000" stroke-width="1" />
<path d="M480.8,415.0 L487.5,414.2 L491.7,412.6" fill="none" stroke="#000" stroke-width="1.2" />
<path d="M488,411.2 l3.8,1.6 l-2,1.6 Z" fill="#000" stroke="#000" stroke-width="1" />
<path d="M437.3,387.6 L441.5,385.3" fill="none" stroke="#000" stroke-width="1.1" />
<path d="M439.5,385.2 l2.6,-1.9 l2.2,2.6 Z" fill="#000" stroke="#000" stroke-width="1" />
<path d="M420.9,345.0 L424.8,345.0 L429.1,346.5 L430.0,348.9 L429.1,352.0 L427.5,352.7 L425.2,351.6 L423.6,349.2 L421.1,347.7 Z" fill="#000" stroke="#000" stroke-width="0.8" />
<path d="M271.0,356.6 L397.5,430.0 L397.5,477.5" fill="none" stroke="#000" stroke-width="1.5" />
<path d="M397.5,477.5 C390,484 378,488.5 368.3,490" fill="none" stroke="#000" stroke-width="1.5" />
<path d="M271.0,356.6 L242.1,375.9 L241.6,416.7 L243.0,418.6 L368.3,490.0 L368.3,448.3 L397.5,430.0" fill="none" stroke="#000" stroke-width="1.6" />
<path d="M368.3,448.3 L345.0,435.5" fill="none" stroke="#000" stroke-width="1.1" />
<path d="M369.5,450.0 L397.0,432.6" fill="none" stroke="#000" stroke-width="0.8" />
<path d="M390.3,481.2 L390.3,473 C390.3,471.6 391,471 392,470.4 L397.3,467.5" fill="none" stroke="#000" stroke-width="1.1" />
<path d="M272.7,364.4 L280.8,369.0 L289.0,373.6 L297.1,378.2 L305.3,382.8 L313.4,387.3 L321.6,391.9 L329.8,396.5 L337.9,401.1 L346.1,405.7 L354.2,410.3 L362.4,414.9 L370.5,419.5" fill="none" stroke="#000" stroke-width="2.9" />
<path d="M265.5,368.6 L273.6,373.2 L281.8,377.8 L289.9,382.4 L298.1,387.0 L306.2,391.6 L314.4,396.2 L322.5,400.7 L330.7,405.3 L338.8,409.8 L347.0,414.3 L355.1,418.8 L363.3,423.3" fill="none" stroke="#000" stroke-width="2.7" />
<path d="M256.1,373.9 L264.3,378.7 L272.4,383.5 L280.6,388.2 L288.7,392.8 L296.9,397.5 L305.0,402.0 L313.2,406.5 L321.3,410.9 L329.5,415.3 L337.6,419.6 L345.8,423.9 L353.9,428.2" fill="none" stroke="#000" stroke-width="2.7" />
<path d="M246.0,379.8 L254.2,384.8 L262.3,389.7 L270.4,394.6 L278.6,399.4 L286.8,404.0 L294.9,408.6 L303.1,413.0 L311.2,417.3 L319.4,421.5 L327.5,425.6 L335.6,429.6 L343.8,433.6" fill="none" stroke="#000" stroke-width="3.4" />
<path d="M272.7,364.4 L246.0,379.8" fill="none" stroke="#000" stroke-width="4.2" />
<path d="M289.0,373.6 L262.3,389.7" fill="none" stroke="#000" stroke-width="2.9" />
<path d="M305.3,382.8 L278.6,399.4" fill="none" stroke="#000" stroke-width="2.9" />
<path d="M321.6,391.9 L294.9,408.6" fill="none" stroke="#000" stroke-width="2.9" />
<path d="M337.9,401.1 L311.2,417.3" fill="none" stroke="#000" stroke-width="2.9" />
<path d="M354.2,410.3 L327.5,425.6" fill="none" stroke="#000" stroke-width="2.9" />
<path d="M370.5,419.5 L343.8,433.6" fill="none" stroke="#000" stroke-width="2.9" />
<path d="M370.5,419.5 L396.0,432.2" fill="none" stroke="#000" stroke-width="0.9" />
<path d="M343.8,433.6 L368.3,448.3" fill="none" stroke="#000" stroke-width="1.0" />
<path d="M297.8,379.3 l2.6,-1.6 l2.2,1.4 Z" fill="#000" stroke="#000" stroke-width="0.8" />
<path d="M330.4,397.6 l2.6,-1.6 l2.2,1.4 Z" fill="#000" stroke="#000" stroke-width="0.8" />
<path d="M363.0,416.0 l2.6,-1.6 l2.2,1.4 Z" fill="#000" stroke="#000" stroke-width="0.8" />
<path d="M270.5,364.0 L270.5,405.0" fill="none" stroke="#000" stroke-width="1.0" />
<path d="M241.6,377.0 L246.2,380.0 L246.2,417.0 L241.6,416.0 Z" fill="#000" stroke="#000" stroke-width="0.8" />
<line x1="243.2" y1="385.0" x2="243.2" y2="396.0" stroke="#fff" stroke-width="0.8"/>
<path d="M246.0,380.0 L247.5,396.0" fill="none" stroke="#000" stroke-width="1.2" />
<path d="M249,383 C247.5,388 247.5,393 248.5,397" fill="none" stroke="#000" stroke-width="0.9" />
<path d="M252,384 C250,389 249.5,394 250.5,399" fill="none" stroke="#000" stroke-width="0.8" />
<path d="M266.5,397.5 C264.5,399.5 263.5,402 263.8,404.5" fill="none" stroke="#000" stroke-width="1.3" />
<path d="M268.5,405.5 l3,1.6" fill="none" stroke="#000" stroke-width="1.6" />
<path d="M279.2,398.5 L279.2,414.0" fill="none" stroke="#000" stroke-width="1.6" />
<path d="M282.0,400.0 L281.5,411.0" fill="none" stroke="#000" stroke-width="1.0" />
<path d="M282.5,399 l5,-3.2 M284,402 l4,-2.6 M283,406 C285.5,405 287,403 287.5,400.5" fill="none" stroke="#000" stroke-width="0.9" />
<path d="M247.2,398.0 L281.0,413.3 L345.0,447.0 L345.0,472.6 L243.4,419.0 L243.0,403.0 Z" fill="#000" stroke="#000" stroke-width="1" />
<path d="M282.7,416.7 L344,448.7" fill="none" stroke="#fff" stroke-width="0.8" />
<path d="M249,401.5 L259,406.6 M249.5,404 L258,408.4" fill="none" stroke="#fff" stroke-width="0.7" />
<path d="M248.5,409 L252,409.5 L256,413 L260.5,414 L258,416.5 L250,413 Z" fill="#fff" stroke="#fff" stroke-width="0.5" />
<path d="M246,416.5 L258,422.6" fill="none" stroke="#fff" stroke-width="0.8" />
<path d="M264.4,421.0 L275.5,427.0 L275.5,428.8 L264.4,422.8 Z" fill="#fff" stroke="#fff" stroke-width="0.6" />
<path d="M268,428.6 L340,468" stroke="#fff" stroke-width="1.0" stroke-dasharray="6 3 1.5 4 8 5" stroke-linecap="butt" fill="none"/>
<path d="M283,430 L343,463" stroke="#fff" stroke-width="0.8" stroke-dasharray="2 5 1.2 7 3 9" stroke-linecap="butt" fill="none"/>
<path d="M266,428.5 L280,436.2" stroke="#fff" stroke-width="0.8" stroke-dasharray="1.2 4" stroke-linecap="butt" fill="none"/>
<path d="M344.2,437.5 L344.2,472.4" fill="none" stroke="#000" stroke-width="1.4" />
<path d="M345.0,439.4 L362.8,448.4" fill="none" stroke="#000" stroke-width="1.5" />
<path d="M345.0,444.6 L362.5,453.6" fill="none" stroke="#000" stroke-width="1.0" />
<path d="M345.0,452.8 L354.0,457.4" fill="none" stroke="#000" stroke-width="1.0" />
<path d="M362.2,447.4 L368.3,447.0 L368.3,457.4 L362.2,456.6 Z" fill="#000" stroke="#000" stroke-width="0.8" />
<rect x="363.6" y="455.2" width="1.6" height="1.6" fill="#fff"/>
<path d="M353.9,455.5 L353.9,478.0" fill="none" stroke="#000" stroke-width="1.9" />
<path d="M355.5,459.2 L366.0,464.6" fill="none" stroke="#000" stroke-width="1.3" />
<path d="M356.2,462.0 L356.2,476.5" fill="none" stroke="#000" stroke-width="1.0" />
<path d="M357.2,466 l3.6,1.8 l-1.2,4 l-2.2,1.2 Z" fill="#000" stroke="#000" stroke-width="0.9" />
<path d="M361.6,468.4 l-1.6,4.8" fill="none" stroke="#000" stroke-width="1.2" />
<path d="M355,477.5 l3,2.2 M359.5,480.5 l3,1.6 M363,479.5 l2.6,1.2" fill="none" stroke="#000" stroke-width="2.6" />
<path d="M366.7,457.5 L366.7,488.5" fill="none" stroke="#000" stroke-width="1.9" />
<path d="M364.6,459.0 L364.6,484.0" fill="none" stroke="#000" stroke-width="0.9" />
<path d="M367.2,481 l3.2,-1.4 l0.2,6.2 l-3.2,1.6 Z" fill="#000" stroke="#000" stroke-width="0.8" />
<path d="M172.5,422.5 L157.5,432.2 C149.5,437.5 144.2,444.5 143.2,456.5 L142.5,475.3" fill="none" stroke="#000" stroke-width="2.6" />
<path d="M188.3,431.6 L173.3,441.3 C165.3,446.6 160.0,453.6 159.0,465.6 L158.3,484.4" fill="none" stroke="#000" stroke-width="2.2" />
<path d="M204.2,440.8 L189.2,450.5 C181.2,455.8 175.9,462.8 174.9,474.8 L174.2,493.6" fill="none" stroke="#000" stroke-width="2.6" />
<path d="M172.5,422.5 L204.2,440.8" fill="none" stroke="#000" stroke-width="2.4" />
<path d="M165.5,426.9 L197.2,445.2" fill="none" stroke="#000" stroke-width="2.0" />
<path d="M157.5,432.2 L189.2,450.5" fill="none" stroke="#000" stroke-width="2.0" />
<path d="M143.3,459.3 L175.0,476.0" fill="none" stroke="#000" stroke-width="2.2" />
<path d="M142.5,474.3 L174.2,492.6" fill="none" stroke="#000" stroke-width="4.6" />
<path d="M144.5,475.9 L172.7,493.0" stroke="#fff" stroke-width="0.6" stroke-dasharray="1.3 1.0" stroke-linecap="butt" fill="none"/>
<path d="M207.5,443.3 L192.5,453.0 C184.5,458.3 179.2,465.3 178.2,477.3 L177.5,493.8" fill="none" stroke="#000" stroke-width="2.6" />
<path d="M223.8,452.5 L208.8,462.2 C200.8,467.5 195.4,474.5 194.4,486.5 L193.8,503.0" fill="none" stroke="#000" stroke-width="2.2" />
<path d="M240.0,461.6 L225.0,471.3 C217.0,476.6 211.7,483.6 210.7,495.6 L210.0,512.1" fill="none" stroke="#000" stroke-width="2.2" />
<path d="M256.2,470.8 L241.2,480.5 C233.2,485.8 227.9,492.8 226.9,504.8 L226.2,521.3" fill="none" stroke="#000" stroke-width="2.2" />
<path d="M272.5,480.0 L257.5,489.7 C249.5,495.0 244.2,502.0 243.2,514.0 L242.5,530.5" fill="none" stroke="#000" stroke-width="2.6" />
<path d="M207.5,443.3 L272.5,480.0" fill="none" stroke="#000" stroke-width="2.4" />
<path d="M200.5,447.7 L265.5,484.4" fill="none" stroke="#000" stroke-width="2.0" />
<path d="M192.5,453.0 L257.5,489.7" fill="none" stroke="#000" stroke-width="2.0" />
<path d="M178.3,478.1 L243.3,510.5" fill="none" stroke="#000" stroke-width="2.2" />
<path d="M177.5,492.8 L242.5,529.5" fill="none" stroke="#000" stroke-width="4.6" />
<path d="M179.5,494.4 L241.0,529.9" stroke="#fff" stroke-width="0.6" stroke-dasharray="1.3 1.0" stroke-linecap="butt" fill="none"/>
<path d="M84.9,481.9 L209.3,551.0" fill="none" stroke="#000" stroke-width="3.7" stroke-linecap="butt"/>
<path d="M86,482.5 L208.5,550.5" stroke="#fff" stroke-width="0.6" stroke-dasharray="1.2 1.0" stroke-linecap="butt" fill="none"/>
<path d="M85.8,490.2 L206.7,557.2" fill="none" stroke="#000" stroke-width="0.9" />
<path d="M84.7,481 C83,490 82.2,500 82.6,508 C83,514 83.6,519 84.4,522.6" fill="none" stroke="#000" stroke-width="1.5" />
<path d="M85.0,515.2 L206.7,583.2" fill="none" stroke="#000" stroke-width="3.3" stroke-linecap="butt"/>
<path d="M86,515.8 L206,582.8" stroke="#fff" stroke-width="0.6" stroke-dasharray="1.2 1.0" stroke-linecap="butt" fill="none"/>
<path d="M84.4,522.6 L208.5,592.4" fill="none" stroke="#000" stroke-width="1.3" />
<path d="M85.5,519.0 L207.0,586.9" fill="none" stroke="#000" stroke-width="0.7" />
<path d="M209.2,550.5 C206.6,562 206.2,578 208.7,592.6" fill="none" stroke="#000" stroke-width="2.7" />
<path d="M212.3,549.5 C213.4,562 213.4,580 212.6,593 L208.7,592.6" fill="none" stroke="#000" stroke-width="1.9" />
<path d="M209,549.2 L212,548.2 L213.6,555" fill="none" stroke="#000" stroke-width="2.4" />
<path d="M206.7,556.2 L206.3,583" fill="none" stroke="#000" stroke-width="0.8" />
<path d="M89.5,481.5 l0.3,-1.8 l1.8,0.2 l0.4,2.6" fill="none" stroke="#000" stroke-width="1.4" />
<path d="M188.0,541.6 L208.0,552.6" fill="none" stroke="#000" stroke-width="0.8" />
<path d="M282.4,498.4 L285.8,496.4 L295.3,502.2 L295.3,508.6 L297,508 L301.4,505.2 L301.4,517.9 L295,521.9" fill="none" stroke="#000" stroke-width="1.5" />
<path d="M282.4,498.4 L292.6,503.8 L295.3,502.2" fill="none" stroke="#000" stroke-width="1.2" />
<path d="M282.4,498.4 L282.8,508.5 L282,510.5 L282.6,513 L283.6,517.4 L283.9,521 L288,524.4 L290.6,521.8 L295,521.9" fill="none" stroke="#000" stroke-width="1.5" />
<path d="M293.8,503.8 L293.8,521.4" fill="none" stroke="#000" stroke-width="2.6" />
<path d="M283.6,517.4 L292.8,521.8" fill="none" stroke="#000" stroke-width="1.6" />
<path d="M285.5,519.6 l3.6,2.2" fill="none" stroke="#000" stroke-width="1.0" />
<path d="M286.8,512.6 L290.5,511.8 L294.2,514.0 L294.2,517.4 L290.0,516.6 Z" fill="#000" stroke="#000" stroke-width="0.8" />
<path d="M404.3,528 C404.3,526.5 405.3,525.6 406.6,525.4 L408.3,525 L416.8,529.8 C417.5,530.2 417.8,530.8 417.8,531.6 L417.8,551 C417.8,552.4 416.8,553.4 415.5,553.6 L413.6,553.7 L405,547.4 C404.5,547 404.3,546.5 404.3,545.8 Z" fill="#fff" stroke="#000" stroke-width="1.4" />
<path d="M404.6,527.6 L407.6,525.6 L415,530.6 L415,548 L404.6,542.6 Z" fill="#000" stroke="#000" stroke-width="0.8" />
<path d="M415,530.6 L417.6,530.6 L417.6,551.4 L415,553 Z" fill="#000" stroke="#000" stroke-width="0.6" />
<path d="M416.3,542 l0,3 M416.3,547 l0,3.5" fill="none" stroke="#fff" stroke-width="0.7" />
<path d="M406.5,530.2 l1.6,1 M409.5,529.2 l1.6,1 M412.3,530.6 l1.4,0.9 M407,532.6 l2.4,0.4 l4.6,3 M408.5,536.5 l0.8,0.6 M411.5,537.5 l1,2" fill="none" stroke="#fff" stroke-width="0.8" />
<path d="M444.2,502.4 L446.0,500.9 L450.6,500.2 L451.4,505.2 L445.0,506.8 Z" fill="#000" stroke="#000" stroke-width="1.0" />
<path d="M446.2,503.8 l3.4,-1 l0.2,1.2 l-3.4,1.2 Z" fill="#aaa" stroke="none"/>
<path d="M450.6,500.4 L458.6,504.4 L458.9,511.2 L456.6,512.8" fill="none" stroke="#000" stroke-width="1.9" />
<path d="M451.2,503.6 L456.2,506.2" fill="none" stroke="#000" stroke-width="1.6" />
<path d="M451.2,504.5 L453.4,505.5 L453.6,516.0 L451.4,517.0 Z" fill="#000" stroke="#000" stroke-width="0.8" />
<path d="M455.8,506.4 L456,513.2" fill="none" stroke="#000" stroke-width="2.0" />
<path d="M454.6,507.5 l0,4.5" fill="none" stroke="#fff" stroke-width="0.7" />
<path d="M448.2,519.0 L451.6,515.6 L456.6,513.2 L457.2,517.8 L452.6,521.6 Z" fill="#000" stroke="#000" stroke-width="1.0" />
</svg>
</body></html>
